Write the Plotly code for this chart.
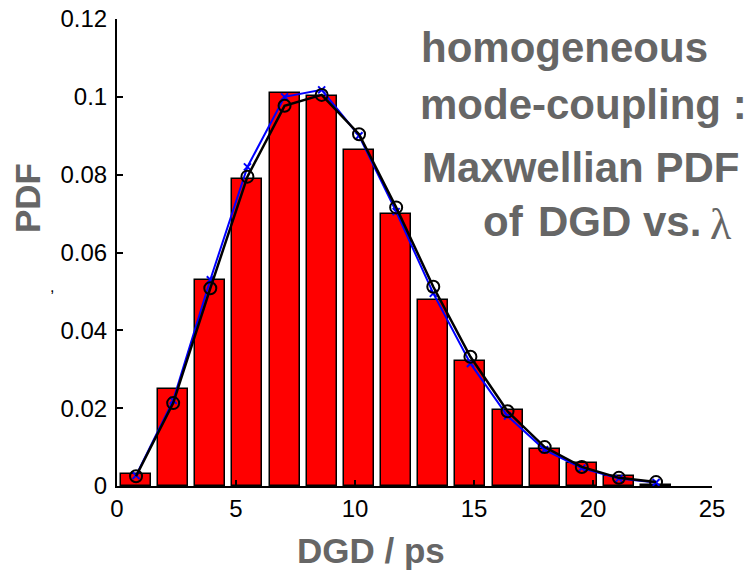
import plotly.graph_objects as go

# Data
bin_centers = [0.80, 2.36, 3.92, 5.48, 7.04, 8.60, 10.17, 11.73, 13.29, 14.85, 16.41, 17.97, 19.53, 21.09, 22.65]
hist_pdf = [0.0032, 0.0248, 0.0529, 0.0789, 0.1011, 0.1002, 0.0863, 0.0698, 0.0478, 0.0321, 0.0195, 0.0096, 0.0058, 0.0025, 0.0003]
maxwell_pdf = [0.0025, 0.0213, 0.0508, 0.0795, 0.0977, 0.1005, 0.0904, 0.0716, 0.0512, 0.0332, 0.0192, 0.0100, 0.0049, 0.0021, 0.0010]
sim_pdf = [0.0027, 0.0220, 0.0530, 0.0820, 0.1000, 0.1018, 0.0900, 0.0705, 0.0495, 0.0315, 0.0180, 0.0093, 0.0046, 0.0019, 0.0009]

x_ticks = [0, 5, 10, 15, 20, 25]
y_ticks = [0, 0.02, 0.04, 0.06, 0.08, 0.1, 0.12]
y_tick_text = ["0", "0.02", "0.04", "0.06", "0.08", "0.1", "0.12"]

x_label = "DGD / ps"
y_label = "PDF"
note_lines = ["homogeneous", "mode-coupling :", "Maxwellian PDF"]

GRAY = "#666666"
SANS = "Liberation Sans, Arial, sans-serif"

# screen geometry of the plot area (body margin removed via post_script)
PX0, PX1 = 117, 712   # screen x of x=0 and x=25
PY0, PY1 = 486, 19    # screen y of y=0 and y=0.12
PW, PH = PX1 - PX0, PY0 - PY1
FW, FH = 753, 573


def px(sx):
    return (sx - PX0) / PW


def py(sy):
    return (PY0 - sy) / PH


fig = go.Figure()
fig.add_trace(go.Bar(
    x=bin_centers, y=hist_pdf, width=1.26,
    marker=dict(color="#ff0000", line=dict(color="black", width=1.5)),
    showlegend=False,
))
fig.add_trace(go.Scatter(
    x=bin_centers, y=sim_pdf, mode="lines+markers",
    line=dict(color="#0000ff", width=2),
    marker=dict(symbol="x-thin", size=7, line=dict(color="#0000ff", width=2)),
    showlegend=False,
))
fig.add_trace(go.Scatter(
    x=bin_centers, y=maxwell_pdf, mode="lines+markers",
    line=dict(color="black", width=2.5),
    marker=dict(symbol="circle-open", size=12, color="black", line=dict(color="black", width=2)),
    showlegend=False,
))

fig.update_layout(
    width=FW, height=FH,
    margin=dict(l=PX0, r=FW - PX1, t=PY1, b=FH - PY0, autoexpand=False),
    paper_bgcolor="white", plot_bgcolor="white",
    font=dict(family=SANS, size=24, color="black"),
    bargap=0,
    xaxis=dict(
        range=[0, 25.001], tickvals=x_ticks, ticktext=[str(v) for v in x_ticks],
        showgrid=False, zeroline=False, showline=True, linecolor="black", linewidth=2,
        ticks="inside", ticklen=6, tickwidth=1.5, tickcolor="black", ticklabeloverflow="allow",
        tickfont=dict(family=SANS, size=24, color="black"),
    ),
    yaxis=dict(
        range=[0, 0.12001], tickvals=y_ticks, ticktext=y_tick_text,
        showgrid=False, zeroline=False, showline=True, linecolor="black", linewidth=2,
        ticks="inside", ticklen=6, tickwidth=1.5, tickcolor="black", ticklabelstandoff=3,
        ticklabeloverflow="allow",
        tickfont=dict(family=SANS, size=24, color="black"),
    ),
)

ann = []
# axis labels
ann.append(dict(text=f"<b>{x_label}</b>", xref="paper", yref="paper", x=px(371), y=py(550),
                xanchor="center", yanchor="middle", showarrow=False,
                font=dict(family=SANS, size=35, color=GRAY)))
ann.append(dict(text=f"<b>{y_label}</b>", xref="paper", yref="paper", x=px(27), y=py(198),
                xanchor="center", yanchor="middle", showarrow=False, textangle=-90,
                font=dict(family=SANS, size=35, color=GRAY)))
# stray mark
ann.append(dict(text=",", xref="paper", yref="paper", x=px(52), y=py(286),
                xanchor="center", yanchor="middle", showarrow=False,
                font=dict(family=SANS, size=16, color="black")))

# right-hand note
baselines = [62, 120, 183]
lefts = [419, 418, 420]
for txt, bl, lx in zip(note_lines, baselines, lefts):
    ann.append(dict(text=f"<b>{txt}</b>", xref="paper", yref="paper",
                    x=px(lx), y=py(bl - 15),
                    xanchor="left", yanchor="middle", showarrow=False,
                    font=dict(family=SANS, size=42, color=GRAY)))
ann.append(dict(text="<b>of</b>", xref="paper", yref="paper", x=px(481), y=py(222),
                xanchor="left", yanchor="middle", showarrow=False, font=dict(family=SANS, size=42, color=GRAY)))
ann.append(dict(text="<b>DGD vs.</b>", xref="paper", yref="paper", x=px(536), y=py(222),
                xanchor="left", yanchor="middle", showarrow=False, font=dict(family=SANS, size=42, color=GRAY)))
ann.append(dict(text="λ", xref="paper", yref="paper", x=px(708), y=py(224),
                xanchor="left", yanchor="middle", showarrow=False,
                font=dict(family="Liberation Serif, Times New Roman, serif", size=44, color=GRAY)))

fig.update_layout(annotations=ann)
fig.write_html("out.html", config={"displayModeBar": False},
               post_script="document.body.style.margin='0';")
